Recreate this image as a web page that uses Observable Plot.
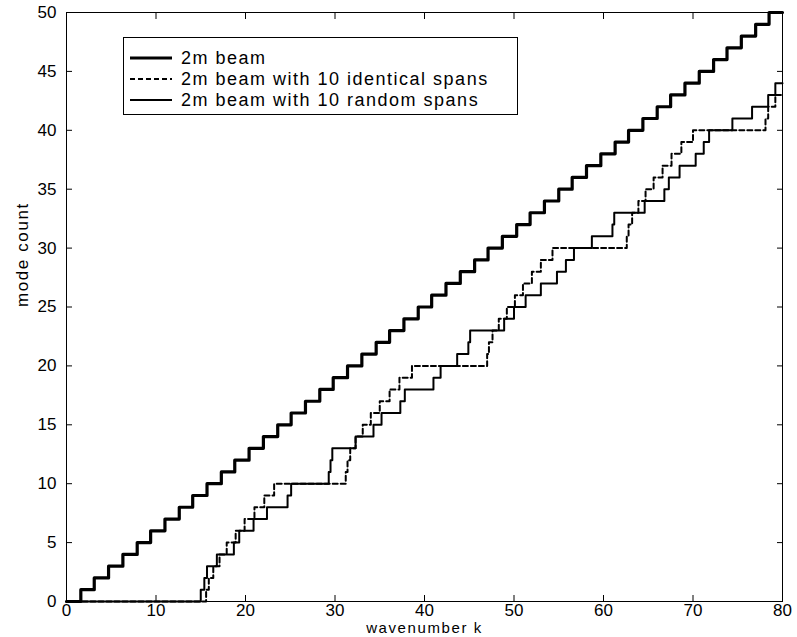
<!DOCTYPE html>
<html>
<head>
<meta charset="utf-8">
<script src="https://cdn.jsdelivr.net/npm/d3@7"></script>
<script src="https://cdn.jsdelivr.net/npm/@observablehq/plot@0.6"></script>
<style>
  html, body { margin: 0; padding: 0; background: #fff; }
  #wrap { position: relative; width: 797px; height: 637px; font-family: "Liberation Sans", Arial, sans-serif; }
  #legend { position: absolute; left: 123px; top: 37px; width: 395px; height: 78px; border: 1px solid #000; background: #fff; box-sizing: border-box; }
  .row { position: absolute; left: 0; height: 20px; display: flex; align-items: center; font-size: 18px; letter-spacing: 1.5px; color: #000; }
  .row svg { margin-left: 6px; margin-right: 9px; }
  .title { letter-spacing: 1.6px; }
</style>
</head>
<body>
<div id="wrap"></div>
<script>
// wavenumbers at which the mode count steps up by one
const kBeam = [1.6, 3.1, 4.7, 6.3, 7.9, 9.4, 11.0, 12.6, 14.1, 15.7,
  17.3, 18.8, 20.4, 22.0, 23.6, 25.1, 26.7, 28.3, 29.8, 31.4,
  33.0, 34.6, 36.1, 37.7, 39.3, 40.8, 42.4, 44.0, 45.6, 47.1,
  48.7, 50.3, 51.8, 53.4, 55.0, 56.5, 58.1, 59.7, 61.3, 62.8,
  64.4, 66.0, 67.5, 69.1, 70.7, 72.3, 73.8, 75.4, 77.0, 78.5];
const kIdentical = [15.6, 15.9, 16.4, 17.1, 17.9, 18.9, 19.9, 21.0, 22.1, 23.2,
  31.2, 31.4, 31.7, 32.3, 33.1, 34.0, 35.0, 36.1, 37.2, 38.6,
  47.0, 47.2, 47.6, 48.3, 49.2, 50.1, 51.0, 52.0, 53.0, 54.3,
  62.6, 62.8, 63.2, 63.9, 64.7, 65.6, 66.6, 67.6, 68.7, 70.0,
  78.1, 78.4, 79.2];
const kRandom = [15.0, 15.4, 15.7, 16.8, 18.7, 19.3, 20.9, 22.4, 24.7, 25.1,
  29.3, 29.5, 29.7, 32.3, 34.3, 35.2, 37.3, 37.8, 41.0, 41.8,
  43.65, 44.9, 45.1, 48.9, 50.0, 51.3, 53.0, 54.8, 55.8, 56.7,
  58.7, 61.0, 61.2, 64.6, 66.8, 67.3, 68.5, 70.3, 71.2, 71.8,
  74.4, 76.6, 78.4, 79.2];
const seriesNames = ["2m beam", "2m beam with 10 identical spans", "2m beam with 10 random spans"];
const xTicks = [0, 10, 20, 30, 40, 50, 60, 70, 80];
const yTicks = [0, 5, 10, 15, 20, 25, 30, 35, 40, 45, 50];
const xTitle = "wavenumber k";
const yTitle = "mode count";
const xDomain = [0, 80];
const yDomain = [0, 50];

function stairs(ks) {
  const pts = [{k: xDomain[0], n: 0}];
  ks.forEach((k, i) => pts.push({k, n: i + 1}));
  pts.push({k: xDomain[1], n: ks.length});
  return pts;
}
const beam = stairs(kBeam), ident = stairs(kIdentical), rand = stairs(kRandom);

const styles = [
  {stroke: "#000", strokeWidth: 3.2},
  {stroke: "#000", strokeWidth: 2, strokeDasharray: "5,3"},
  {stroke: "#000", strokeWidth: 2}
];

const plot = Plot.plot({
  width: 797,
  height: 637,
  marginLeft: 66,
  marginRight: 15,
  marginTop: 12,
  marginBottom: 36,
  style: {fontFamily: "'Liberation Sans', Arial, sans-serif", fontSize: "17px", color: "#000", background: "#fff"},
  x: {domain: xDomain},
  y: {domain: yDomain},
  marks: [
    Plot.line(rand, {x: "k", y: "n", curve: "step-after", ...styles[2]}),
    Plot.line(ident, {x: "k", y: "n", curve: "step-after", ...styles[1]}),
    Plot.line(beam, {x: "k", y: "n", curve: "step-after", ...styles[0]}),
    Plot.frame({stroke: "#000", strokeWidth: 1}),
    Plot.axisX({anchor: "bottom", ticks: xTicks, tickSize: -6, tickPadding: 8, fontSize: 17, label: null}),
    Plot.axisX({anchor: "top", ticks: xTicks, tickSize: -6, tickFormat: () => "", label: null}),
    Plot.axisY({anchor: "left", ticks: yTicks, tickSize: -6, tickPadding: 16, fontSize: 17, label: null}),
    Plot.axisY({anchor: "right", ticks: yTicks, tickSize: -6, tickFormat: () => "", label: null}),
    Plot.text([xTitle], {frameAnchor: "bottom", dy: 27, lineAnchor: "middle", fontSize: 15, className: "title"}),
    Plot.text([yTitle], {frameAnchor: "left", dx: -44, rotate: -90, lineAnchor: "middle", fontSize: 17, className: "title"})
  ]
});

const wrap = document.getElementById("wrap");
wrap.appendChild(plot);

// legend
const legend = document.createElement("div");
legend.id = "legend";
const rowTops = [10, 31, 52];
seriesNames.forEach((name, i) => {
  const row = document.createElement("div");
  row.className = "row";
  row.style.top = rowTops[i] + "px";
  const s = styles[i];
  row.innerHTML = `<svg width="42" height="20"><line x1="0" x2="42" y1="10" y2="10" stroke="${s.stroke}" stroke-width="${s.strokeWidth}" ${s.strokeDasharray ? `stroke-dasharray="${s.strokeDasharray}"` : ""}/></svg><span>${name}</span>`;
  legend.appendChild(row);
});
wrap.appendChild(legend);
</script>
</body>
</html>
